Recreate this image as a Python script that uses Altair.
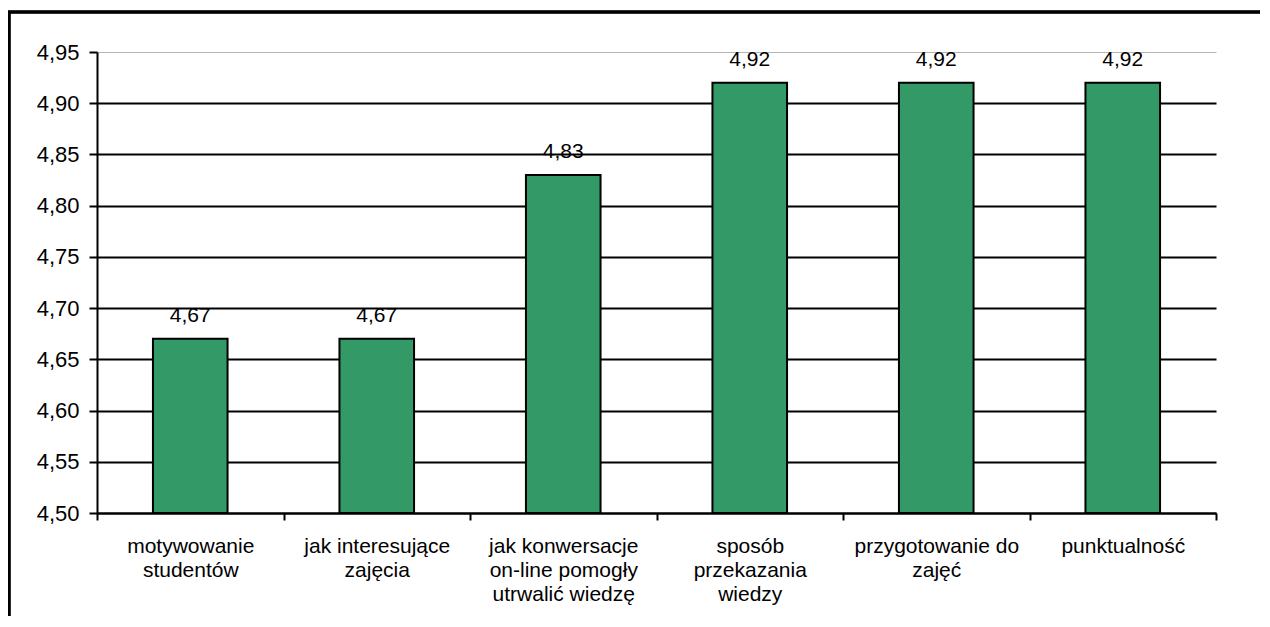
import altair as alt
import pandas as pd

# ---- data ----
label_lines = [
    ["motywowanie", "studentów"],
    ["jak interesujące", "zajęcia"],
    ["jak konwersacje", "on-line pomogły", "utrwalić wiedzę"],
    ["sposób", "przekazania", "wiedzy"],
    ["przygotowanie do", "zajęć"],
    ["punktualność"],
]
values = [4.67, 4.67, 4.83, 4.92, 4.92, 4.92]
y_ticks = [4.50, 4.55, 4.60, 4.65, 4.70, 4.75, 4.80, 4.85, 4.90, 4.95]
y_min, y_max = 4.50, 4.95

categories = ["\n".join(l) for l in label_lines]
df = pd.DataFrame({"kategoria": categories, "wartosc": values})

FONT = "Liberation Sans"
GREEN = "#339966"

x_enc = alt.X(
    "kategoria:N",
    sort=None,
    scale=alt.Scale(paddingInner=0, paddingOuter=0),
    axis=alt.Axis(
        title=None,
        labelAngle=0,
        labelExpr="split(datum.label, '\\n')",
        labelLineHeight=24,
        labelFont=FONT,
        labelFontSize=21,
        labelColor="black",
        labelPadding=15,
        labelLimit=0,
        tickBand="extent",
        tickSize=7,
        tickWidth=2,
        tickColor="black",
        domainColor="black",
        domainWidth=2,
        grid=False,
    ),
)

y_scale = alt.Scale(domain=[y_min, y_max], nice=False, zero=False)

bars = (
    alt.Chart(df)
    .mark_bar(color=GREEN, stroke="black", strokeWidth=2, width=alt.RelativeBandSize(0.4))
    .encode(
        x=x_enc,
        y=alt.Y(
            "wartosc:Q",
            scale=y_scale,
            axis=alt.Axis(
                title=None,
                values=y_ticks,
                labelExpr="replace(format(datum.value, '.2f'), '.', ',')",
                labelFont=FONT,
                labelFontSize=22,
                labelColor="black",
                labelPadding=10,
                tickSize=8,
                tickWidth=2,
                tickColor="black",
                domainColor="black",
                domainWidth=2,
                grid=True,
                gridColor={"condition": {"test": "datum.value > 4.94", "value": "#b4b4b4"}, "value": "black"},
                gridWidth={"condition": {"test": "datum.value > 4.94", "value": 1}, "value": 2},
            ),
        ),
        y2=alt.datum(y_min),
    )
)

labels = (
    alt.Chart(df)
    .transform_calculate(lbl="replace(format(datum.wartosc, '.2f'), '.', ',')")
    .mark_text(font=FONT, fontSize=21, color="black", baseline="alphabetic", dy=-17)
    .encode(x=alt.X("kategoria:N", sort=None), y=alt.Y("wartosc:Q", scale=y_scale), text="lbl:N")
)

frame_left = alt.Chart(df).mark_rule(color="black", strokeWidth=2.5).encode(
    x=alt.value(-88), y=alt.value(-40), y2=alt.value(700)
)
frame_top = alt.Chart(df).mark_rule(color="black", strokeWidth=2.5).encode(
    x=alt.value(-89), x2=alt.value(1300), y=alt.value(-40)
)

chart = (
    alt.layer(bars, labels, frame_left, frame_top)
    .properties(
        width=1119,
        height=461,
        autosize=alt.AutoSizeParams(type="none"),
        padding={"left": 89, "top": 44, "right": 44, "bottom": 103},
        background="white",
    )
    .configure_view(stroke=None)
)

chart.save("out.html", embed_options={"renderer": "svg", "actions": False})
